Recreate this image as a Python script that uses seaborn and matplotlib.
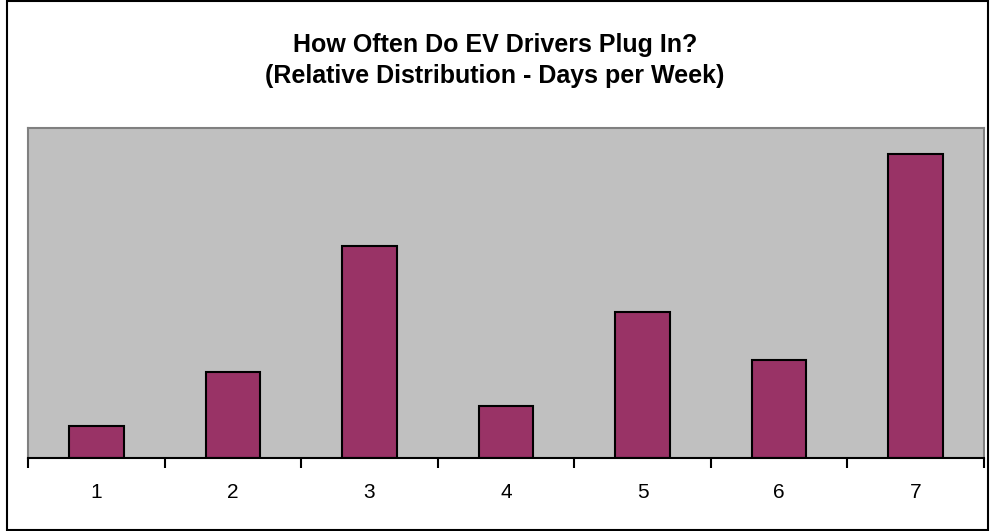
import matplotlib
matplotlib.use("Agg")
import matplotlib.pyplot as plt
import seaborn as sns
import pandas as pd
from matplotlib.patches import Rectangle

# Days per week plugged in and relative share (%)
days = ["1", "2", "3", "4", "5", "6", "7"]
share = [3.4, 9.2, 22.8, 5.6, 15.7, 10.5, 32.7]

df = pd.DataFrame({"days": days, "share": share})

sns.set_style("white")
plt.rcParams["font.family"] = ["Liberation Sans", "DejaVu Sans"]
plt.rcParams["text.color"] = "black"
plt.rcParams["xtick.color"] = "black"
plt.rcParams["xtick.labelcolor"] = "black"

fig = plt.figure(figsize=(9.9, 5.31), dpi=100)
ax = fig.add_axes([28 / 990, 73 / 531, 956 / 990, 330 / 531])
ax.set_facecolor("#C0C0C0")

sns.barplot(data=df, x="days", y="share", color="#993366", width=0.4,
            edgecolor="black", linewidth=1.5, saturation=1, ax=ax)

ax.set_xlim(-0.5, 6.5)
ax.set_ylim(0, 35.5)
ax.set_xlabel("")
ax.set_ylabel("")
ax.set_yticks([])

# ticks at category boundaries, labels centred
ax.set_xticks([i - 0.5 for i in range(8)], minor=True)
ax.tick_params(axis="x", which="minor", bottom=True, length=7, width=1.5,
               color="black", direction="out")
ax.tick_params(axis="x", which="major", bottom=True, length=0, labelsize=15, pad=18)

for side in ["top", "left", "right"]:
    ax.spines[side].set_color("#808080")
    ax.spines[side].set_linewidth(1.5)
ax.spines["bottom"].set_color("black")
ax.spines["bottom"].set_linewidth(1.5)

fig.text(0.5, 1 - 45 / 531, "How Often Do EV Drivers Plug In?", ha="center", va="center",
         fontsize=18, fontweight="bold")
fig.text(0.5, 1 - 76 / 531, "(Relative Distribution - Days per Week)", ha="center", va="center",
         fontsize=18, fontweight="bold")

# outer chart border
fig.patches.append(Rectangle((7 / 990, 1 / 531), 981 / 990, 529 / 531, transform=fig.transFigure,
                             fill=False, edgecolor="black", linewidth=1.5))

fig.savefig("out.png", dpi=100, facecolor="white")
